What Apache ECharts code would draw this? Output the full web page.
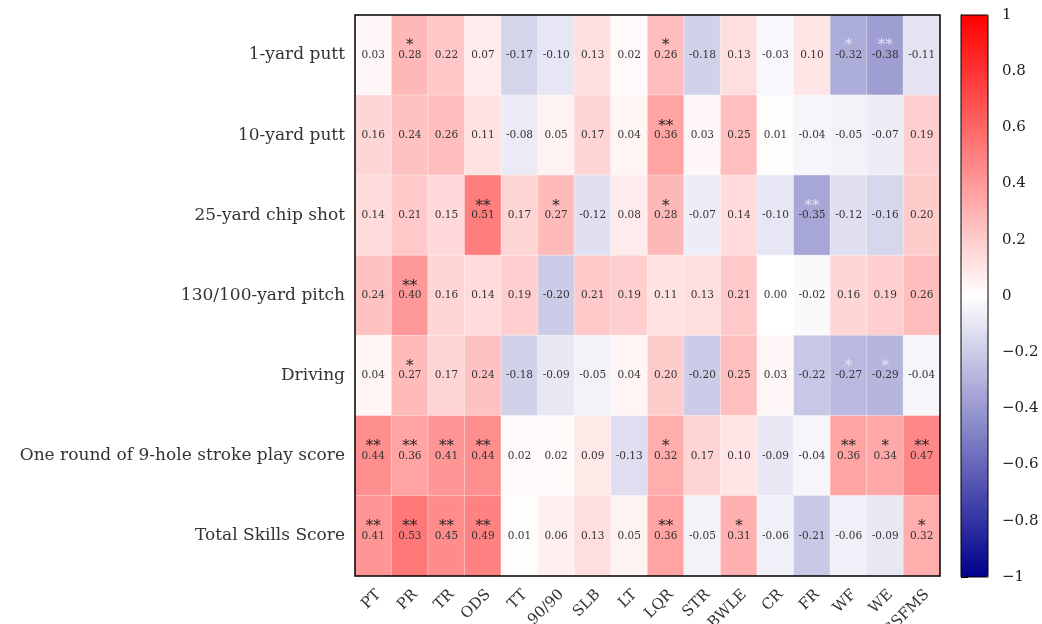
<!DOCTYPE html>
<html>
<head>
<meta charset="utf-8">
<script src="https://cdn.jsdelivr.net/npm/echarts@6/dist/echarts.min.js"></script>
<style>html,body{margin:0;padding:0;background:#fff}#c{width:1042px;height:624px}</style>
</head>
<body>
<div id="c"></div>
<script>
const xCategories = ['PT','PR','TR','ODS','TT','90/90','SLB','LT','LQR','STR','BWLE','CR','FR','WF','WE','GSFMS'];
const yCategories = ['1-yard putt','10-yard putt','25-yard chip shot','130/100-yard pitch','Driving','One round of 9-hole stroke play score','Total Skills Score'];

const putt1   = [0.03,0.28,0.22,0.07,-0.17,-0.10,0.13,0.02,0.26,-0.18,0.13,-0.03,0.10,-0.32,-0.38,-0.11];
const putt10  = [0.16,0.24,0.26,0.11,-0.08,0.05,0.17,0.04,0.36,0.03,0.25,0.01,-0.04,-0.05,-0.07,0.19];
const chip25  = [0.14,0.21,0.15,0.51,0.17,0.27,-0.12,0.08,0.28,-0.07,0.14,-0.10,-0.35,-0.12,-0.16,0.20];
const pitch   = [0.24,0.40,0.16,0.14,0.19,-0.20,0.21,0.19,0.11,0.13,0.21,0.00,-0.02,0.16,0.19,0.26];
const driving = [0.04,0.27,0.17,0.24,-0.18,-0.09,-0.05,0.04,0.20,-0.20,0.25,0.03,-0.22,-0.27,-0.29,-0.04];
const round9  = [0.44,0.36,0.41,0.44,0.02,0.02,0.09,-0.13,0.32,0.17,0.10,-0.09,-0.04,0.36,0.34,0.47];
const total   = [0.41,0.53,0.45,0.49,0.01,0.06,0.13,0.05,0.36,-0.05,0.31,-0.06,-0.21,-0.06,-0.09,0.32];

const putt1Stars   = ['','*','','','','','','','*','','','','','*','**',''];
const putt10Stars  = ['','','','','','','','','**','','','','','','',''];
const chip25Stars  = ['','','','**','','*','','','*','','','','**','','',''];
const pitchStars   = ['','**','','','','','','','','','','','','','',''];
const drivingStars = ['','*','','','','','','','','','','','','*','*',''];
const round9Stars  = ['**','**','**','**','','','','','*','','','','','**','*','**'];
const totalStars   = ['**','**','**','**','','','','','**','','*','','','','','*'];

const colorbarTicks = [-1,-0.8,-0.6,-0.4,-0.2,0,0.2,0.4,0.6,0.8,1];

const rows = [putt1,putt10,chip25,pitch,driving,round9,total];
const starRows = [putt1Stars,putt10Stars,chip25Stars,pitchStars,drivingStars,round9Stars,totalStars];

const data = [];
rows.forEach((r, yi) => r.forEach((v, xi) => data.push([xi, yi, v, starRows[yi][xi]])));

const FONT = '"DejaVu Serif", "Liberation Serif", serif';

const chart = echarts.init(document.getElementById('c'));
chart.setOption({
  backgroundColor: '#fff',
  animation: false,
  grid: [
    {left: 355, top: 15, width: 585, height: 561, outerBoundsMode: 'none', containLabel: false,
     show: true, borderColor: '#000', borderWidth: 1.5, backgroundColor: 'transparent', z: 10},
    {left: 961, top: 15, width: 27, height: 562, outerBoundsMode: 'none', containLabel: false,
     show: true, borderColor: '#000', borderWidth: 1, backgroundColor: 'transparent', z: 10}
  ],
  xAxis: [
    {type: 'category', gridIndex: 0, data: xCategories, position: 'bottom',
     axisLine: {show: false}, axisTick: {show: false}, splitLine: {show: false},
     axisLabel: {rotate: 45, align: 'right', verticalAlign: 'top', fontFamily: FONT, fontSize: 15, color: '#333', margin: 11, interval: 0, hideOverlap: false}},
    {type: 'value', gridIndex: 1, min: 0, max: 1, show: false}
  ],
  yAxis: [
    {type: 'category', gridIndex: 0, data: yCategories, inverse: true,
     axisLine: {show: false}, axisTick: {show: false}, splitLine: {show: false},
     axisLabel: {fontFamily: FONT, fontSize: 17, color: '#333', margin: 10}},
    {type: 'value', gridIndex: 1, min: colorbarTicks[0], max: colorbarTicks[colorbarTicks.length - 1], interval: 0.2, position: 'right',
     axisLine: {show: true, lineStyle: {color: '#000', width: 1}},
     axisTick: {show: true, length: 7, lineStyle: {color: '#000'}},
     splitLine: {show: false},
     axisLabel: {fontFamily: FONT, fontSize: 15, color: '#222', margin: 14,
       formatter: v => (Math.abs(v) < 1e-9 ? '0' : String(+v.toFixed(1))).replace('-', '\u2212')}}
  ],
  visualMap: {
    type: 'continuous', min: -1, max: 1, seriesIndex: 0, dimension: 2,
    inRange: {color: ['#00008c', '#ffffff', '#ff0000']},
    left: 961, top: 15, itemWidth: 27, itemHeight: 562, padding: 0,
    calculable: false, hoverLink: false, show: true, z: 1
  },
  series: [{
    type: 'heatmap', xAxisIndex: 0, yAxisIndex: 0,
    data: data,
    itemStyle: {borderColor: 'rgba(255,255,255,0.6)', borderWidth: 0.6},
    emphasis: {disabled: true},
    label: {
      show: true,
      formatter: p => {
        const v = p.data[2], s = p.data[3];
        const st = s ? (v < 0 ? '{sw|' + s + '}' : '{s|' + s + '}') : '{s| }';
        return st + '\n{v|' + v.toFixed(2) + '}\n{s| }';
      },
      rich: {
        s: {fontFamily: FONT, fontSize: 15, color: '#222', lineHeight: 9.5},
        sw: {fontFamily: FONT, fontSize: 15, color: '#e4e4f4', lineHeight: 9.5},
        v: {fontFamily: FONT, fontSize: 10.5, color: '#333', lineHeight: 9.5}
      }
    }
  }]
});
</script>
</body>
</html>
